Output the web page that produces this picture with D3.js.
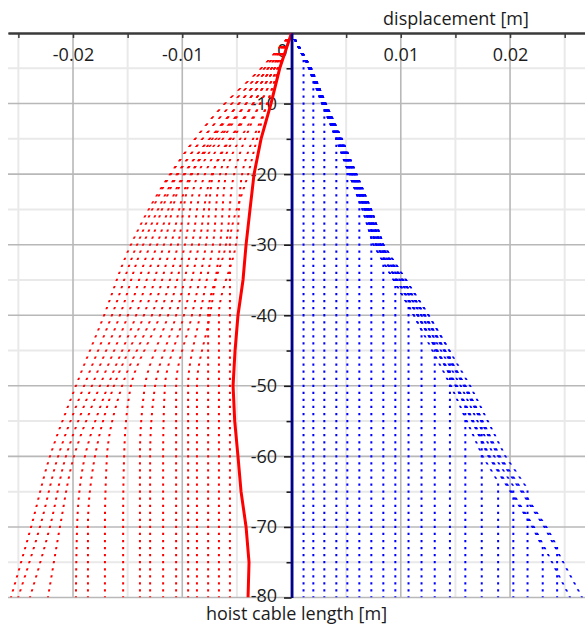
<!DOCTYPE html>
<html>
<head>
<meta charset="utf-8">
<script src="https://cdn.jsdelivr.net/npm/d3@7"></script>
<style>
  body { margin: 0; background: #fff; }
  svg { display: block; font-family: "Open Sans", "DejaVu Sans", sans-serif; }
</style>
</head>
<body>
<div id="chart"></div>
<script>
// displacement values in mm, hoist cable length in m (downwards negative)
const xMajorTicks = [-0.02, -0.01, 0.01, 0.02];
const xMinorTicks = [-0.025, -0.015, -0.005, 0.005, 0.015, 0.025];
const yMajorTicks = [-10, -20, -30, -40, -50, -60, -70, -80];
const yMinorTicks = [-5, -15, -25, -35, -45, -55, -65, -75];

// solid red line
const meanDepth = [0, -5, -10, -15, -20, -25, -30, -35, -40, -45, -50, -55, -60, -65, -70, -75, -80];
const meanX = [0, -1.08, -1.88, -2.79, -3.43, -3.80, -4.16, -4.44, -4.90, -5.17, -5.35, -5.20, -4.90, -4.62, -4.16, -3.89, -3.98];

// blue dotted family: ramp along the envelope, then a vertical column
const blueEnvDepth = [0, -5, -10, -15, -20, -25, -30, -40, -50, -60, -70, -80];
const blueEnvX = [0, 1.6, 2.8, 4.1, 5.3, 6.5, 7.5, 11.2, 14.6, 17.5, 21.4, 24.6];
const blueColumnX = [1.1, 2.0, 3.0, 4.1, 5.1, 6.2, 7.3, 8.4, 9.5, 10.7, 11.9, 13.1, 14.5, 15.9, 17.4, 18.9, 20.3, 21.6, 23.0, 24.3, 25.5, 26.6];
const bluePeelDepth = [-3.4, -6.2, -9.5, -14.5, -17.4, -23.8, -26.9, -30, -34.6, -36.3, -42.1, -43.4, -45.1, -52.9, -54.7, -63.6, -64.2, -64.6, -72.9, -72.8, -80, -80];

// red dotted family, one row per curve
const redDepth = [0, -5, -10, -20, -30, -40, -50, -60, -70, -80];
const redX = [
    [0, -2.79, -6.09, -11.12, -14.69, -17.16, -19.73, -22.11, -23.84, -25.68],
    [0, -2.79, -6.09, -11.03, -14.14, -16.43, -18.99, -21.37, -23.02, -25.03],
    [0, -2.47, -5.45, -10.48, -13.59, -15.70, -18.26, -20.64, -22.11, -23.94],
    [0, -2.47, -5.45, -10.39, -12.95, -14.97, -17.53, -19.91, -21.19, -22.29],
    [0, -2.15, -4.81, -9.84, -12.31, -14.23, -16.80, -18.90, -19.63, -19.73],
    [0, -2.15, -4.81, -9.75, -11.67, -13.50, -16.25, -17.99, -18.63, -18.63],
    [0, -2.15, -4.81, -9.20, -11.03, -12.77, -15.51, -16.89, -17.07, -17.07],
    [0, -1.83, -4.16, -9.11, -10.39, -12.04, -14.69, -15.33, -15.42, -15.42],
    [0, -1.83, -4.16, -8.56, -9.75, -11.30, -13.41, -13.87, -13.87, -13.87],
    [0, -1.83, -4.16, -7.92, -9.11, -10.57, -12.49, -12.95, -12.95, -12.95],
    [0, -1.56, -3.52, -7.28, -8.47, -9.84, -11.58, -11.76, -11.76, -11.76],
    [0, -1.56, -3.52, -7.19, -7.83, -9.11, -10.57, -10.57, -10.57, -10.57],
    [0, -1.56, -3.52, -6.54, -7.19, -8.38, -9.47, -9.47, -9.47, -9.47],
    [0, -1.28, -2.88, -6.00, -6.54, -7.46, -8.65, -8.65, -8.65, -8.65],
    [0, -1.28, -2.88, -5.26, -6.00, -7.64, -7.64, -7.64, -7.64, -7.64],
    [0, -1.14, -2.24, -4.53, -5.08, -6.64, -6.64, -6.64, -6.64, -6.64],
    [0, -1.14, -2.24, -3.98, -5.63, -5.63, -5.63, -5.63, -5.63, -5.63]
];

function initChart() {
    const W = 585, H = 625;
    const plot = { left: 8, right: 585, top: 33, bottom: 597.5 };
    const fontSize = "18px";

    const svg = d3.select("#chart")
        .append("svg")
        .attr("width", W)
        .attr("height", H);

    const xScale = d3.scaleLinear()
        .domain([-0.02595, 0.02686])
        .range([plot.left, plot.right]);

    const yScale = d3.scaleLinear()
        .domain([0, -80])
        .range([plot.top, plot.bottom]);

    const mm = v => v / 1000;
    const textColor = "#1c1c1c";

    // grid
    const grid = svg.append("g");
    grid.selectAll(".vminor").data(xMinorTicks).enter().append("line")
        .attr("x1", d => xScale(d)).attr("x2", d => xScale(d))
        .attr("y1", plot.top).attr("y2", plot.bottom)
        .attr("stroke", "#e9e9e9").attr("stroke-width", 2);
    grid.selectAll(".hminor").data(yMinorTicks).enter().append("line")
        .attr("x1", plot.left).attr("x2", plot.right)
        .attr("y1", d => yScale(d)).attr("y2", d => yScale(d))
        .attr("stroke", "#e9e9e9").attr("stroke-width", 2);
    grid.selectAll(".vmajor").data(xMajorTicks).enter().append("line")
        .attr("x1", d => xScale(d)).attr("x2", d => xScale(d))
        .attr("y1", plot.top).attr("y2", plot.bottom)
        .attr("stroke", "#b8b8b8").attr("stroke-width", 1.6);
    grid.selectAll(".hmajor").data(yMajorTicks).enter().append("line")
        .attr("x1", plot.left).attr("x2", plot.right)
        .attr("y1", d => yScale(d)).attr("y2", d => yScale(d))
        .attr("stroke", "#b8b8b8").attr("stroke-width", 1.6);

    // top x axis, labels inside the plot
    const xAxisMinor = svg.append("g")
        .attr("transform", "translate(0," + plot.top + ")")
        .call(d3.axisBottom(xScale).tickValues(xMinorTicks).tickSize(5).tickSizeOuter(0).tickFormat(""));
    const xAxis = svg.append("g")
        .attr("transform", "translate(0," + plot.top + ")")
        .call(d3.axisBottom(xScale).tickValues(xMajorTicks).tickSize(5).tickSizeOuter(0)
            .tickPadding(10.7).tickFormat(d => String(d)));
    [xAxisMinor, xAxis].forEach(g => {
        g.attr("font-family", null);
        g.select(".domain").attr("stroke", "#3a3a3a").attr("stroke-width", 2);
        g.selectAll(".tick line").attr("stroke", "#3a3a3a").attr("stroke-width", 1.5);
    });
    xAxis.selectAll(".tick text").attr("fill", textColor).style("font-size", fontSize);

    svg.append("text")
        .attr("x", xScale(0) - 4)
        .attr("y", 57)
        .attr("text-anchor", "end")
        .attr("fill", textColor)
        .style("font-size", fontSize)
        .text("0");

    // y tick labels (drawn under the series)
    svg.selectAll(".ylab").data(yMajorTicks).enter().append("text")
        .attr("x", xScale(0) - 14.5)
        .attr("y", d => yScale(d) + (d === -80 ? 4.5 : 6.5))
        .attr("text-anchor", "end")
        .attr("fill", textColor)
        .style("font-size", fontSize)
        .text(d => String(d));

    // axis titles
    svg.append("text")
        .attr("x", 456).attr("y", 25)
        .attr("text-anchor", "middle").attr("fill", textColor)
        .style("font-size", fontSize)
        .text("displacement [m]");
    svg.append("text")
        .attr("x", 296.5).attr("y", 620)
        .attr("text-anchor", "middle").attr("fill", textColor)
        .style("font-size", fontSize)
        .text("hoist cable length [m]");

    svg.append("clipPath").attr("id", "plotClip")
        .append("rect")
        .attr("x", plot.left).attr("y", plot.top)
        .attr("width", plot.right - plot.left).attr("height", plot.bottom - plot.top);

    const series = svg.append("g").attr("clip-path", "url(#plotClip)");

    // one dot per metre of cable length: the dotted paths are drawn in a frame
    // squeezed horizontally so that the dash pattern follows the depth
    const K = 200;
    const x0 = xScale(0);
    const metre = yScale(-1) - yScale(0);
    const dotLen = metre * 0.32;
    const dotted = series.append("g")
        .attr("transform", "translate(" + x0 + ",0) scale(" + K + ",1)");

    const dotLine = d3.line()
        .x(d => (xScale(mm(d[0])) - x0) / K)
        .y(d => yScale(d[1]));

    function addDotted(pts, color, curve) {
        dotted.append("path")
            .datum(pts)
            .attr("fill", "none")
            .attr("stroke", color)
            .attr("stroke-width", 2 / K)
            .attr("stroke-dasharray", dotLen + " " + (metre - dotLen))
            .attr("stroke-dashoffset", dotLen / 2)
            .attr("d", dotLine.curve(curve)(pts));
    }

    // red dotted curves
    redX.forEach(row => {
        addDotted(row.map((v, j) => [v, redDepth[j]]), "#ff0000", d3.curveMonotoneY);
    });

    // blue dotted curves
    const envScale = d3.scaleLinear().domain(blueEnvDepth).range(blueEnvX);
    blueColumnX.forEach((col, i) => {
        const peel = bluePeelDepth[i];
        const f = col / envScale(peel);
        const pts = [];
        blueEnvDepth.forEach((dep, j) => {
            if (dep > peel) pts.push([blueEnvX[j] * f, dep]);
        });
        pts.push([col, peel]);
        if (peel > -80) pts.push([col, -80]);
        addDotted(pts, "#0000ff", d3.curveLinear);
    });

    // solid red line
    const solidLine = d3.line()
        .x(d => xScale(mm(d[0])))
        .y(d => yScale(d[1]));
    series.append("path")
        .datum(meanDepth.map((d, i) => [meanX[i], d]))
        .attr("fill", "none")
        .attr("stroke", "#ff0000")
        .attr("stroke-width", 3)
        .attr("d", solidLine);

    // vertical axis at x = 0
    const yAxisMinor = svg.append("g")
        .attr("transform", "translate(" + x0 + ",0)")
        .call(d3.axisLeft(yScale).tickValues(yMinorTicks).tickSize(5).tickSizeOuter(0).tickFormat(""));
    const yAxis = svg.append("g")
        .attr("transform", "translate(" + x0 + ",0)")
        .call(d3.axisLeft(yScale).tickValues(yMajorTicks).tickSize(7.5).tickSizeOuter(0).tickFormat(""));
    [yAxisMinor, yAxis].forEach(g => {
        g.select(".domain").attr("stroke", "#00008b").attr("stroke-width", 2.5);
        g.selectAll(".tick line").attr("stroke", "#1a1a1a").attr("stroke-width", 1.6);
    });
}

initChart();
</script>
</body>
</html>
